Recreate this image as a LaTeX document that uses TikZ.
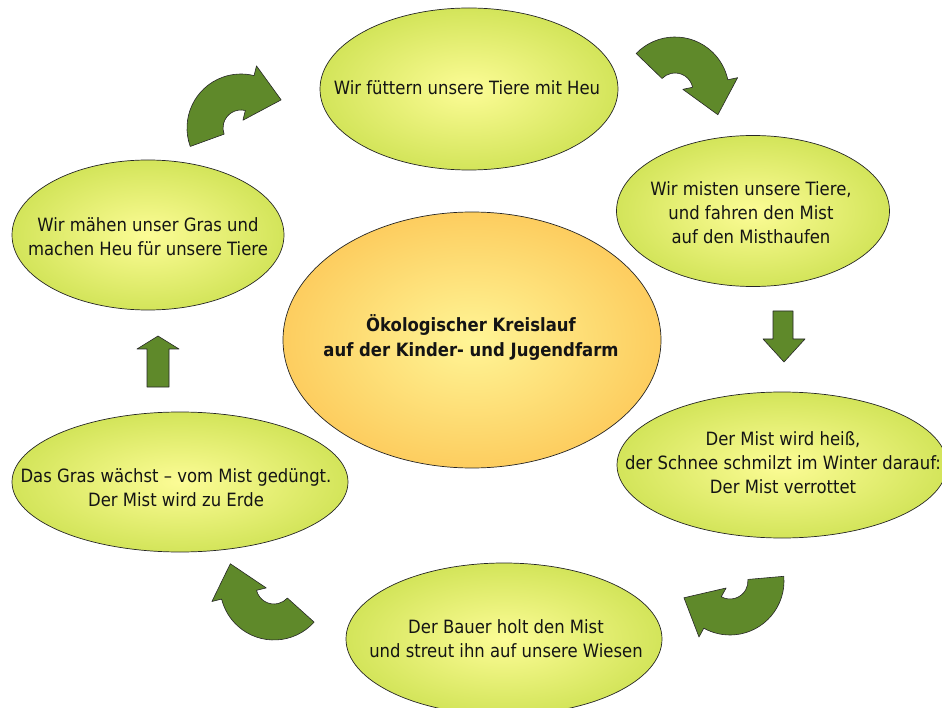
\documentclass[tikz,border=0pt]{standalone}
\usepackage{fontspec}
\setmainfont{DejaVu Sans Condensed}
\usetikzlibrary{shapes.geometric}

\definecolor{leafin}{RGB}{252,252,150}
\definecolor{leafout}{RGB}{170,205,30}
\definecolor{sunin}{RGB}{255,245,150}
\definecolor{sunout}{RGB}{250,165,40}
\definecolor{pfeilgruen}{RGB}{95,137,42}
\definecolor{schrift}{RGB}{20,20,20}

\pgfdeclareradialshading{leafshade}{\pgfpointorigin}{color(0bp)=(leafin); color(50bp)=(leafout)}
\pgfdeclareradialshading{sunshade}{\pgfpointorigin}{color(0bp)=(sunin); color(50bp)=(sunout)}

% Kreispfeil: Mittelpunkt x, y, Winkel des Endes
\newcommand{\kreispfeil}[3]{%
	\begin{scope}[shift={(#1,#2)}]
		\filldraw[pfeil] (#3:54pt) arc[start angle=#3, end angle=#3-124, radius=54pt]
			-- ({#3-124}:64pt) -- ({#3-165}:49pt) -- ({#3-124}:8pt) -- ({#3-124}:18pt)
			arc[start angle=#3-124, end angle=#3, radius=18pt] -- cycle;
	\end{scope}}

\begin{document}
\begin{tikzpicture}[x=1pt, y=-1pt, line join=round,
		blatt/.style={ellipse, draw=black!85, line width=0.7pt, shading=leafshade, inner sep=0pt},
		sonne/.style={blatt, shading=sunshade},
		beschrift/.style={align=center, text=schrift, inner sep=0pt, font=\fontsize{18.3}{24}\selectfont},
		fett/.style={beschrift, font=\fontsize{18.3}{25}\selectfont\bfseries},
		pfeil/.style={fill=pfeilgruen, draw=black!85, line width=0.6pt}]
	\useasboundingbox (0,0) rectangle (942,708);
	\clip (0,0) rectangle (942,708);

	% ====== Stationen des Kreislaufs ======
	\node[blatt, minimum width=298, minimum height=162] (heu) at (469,89) {};
	\node[beschrift] (heu-t) at (467,88) {Wir füttern unsere Tiere mit Heu};

	\node[blatt, minimum width=273, minimum height=151] (misten) at (753,211) {};
	\node[beschrift] (misten-t) at (751,213) {Wir misten unsere Tiere,\\ und fahren den Mist\\ auf den Misthaufen};

	\node[blatt, minimum width=330, minimum height=146] (heiss) at (782,465) {};
	\node[beschrift] (heiss-t) at (783,463) {Der Mist wird heiß,\\ der Schnee schmilzt im Winter darauf:\\ Der Mist verrottet};

	\node[blatt, minimum width=316, minimum height=152] (bauer) at (504,639) {};
	\node[beschrift] (bauer-t) at (506,639) {Der Bauer holt den Mist\\ und streut ihn auf unsere Wiesen};

	\node[blatt, minimum width=336, minimum height=140] (gras) at (180,482) {};
	\node[beschrift] (gras-t) at (176,488) {Das Gras wächst – vom Mist gedüngt.\\ Der Mist wird zu Erde};

	\node[blatt, minimum width=272, minimum height=150] (maehen) at (148,235) {};
	\node[beschrift] (maehen-t) at (148,237) {Wir mähen unser Gras und\\ machen Heu für unsere Tiere};

	% ====== Mitte ======
	\node[sonne, minimum width=378, minimum height=256] (mitte) at (472,340) {};
	\node[fett] (mitte-t) at (471,337) {Ökologischer Kreislauf\\ auf der Kinder- und Jugendfarm};

	% ====== Pfeile ======
	\kreispfeil{241}{128}{200} % oben links
	\kreispfeil{675}{91}{136}  % oben rechts
	\kreispfeil{730}{581}{5}   % unten rechts
	\kreispfeil{274}{586}{318} % unten links

	\filldraw[pfeil] (773,311) -- (793,311) -- (793,339) -- (805,339) -- (784,362) -- (763,339) -- (773,339) -- cycle; % nach unten
	\filldraw[pfeil] (147,387) -- (169,387) -- (169,349) -- (179,349) -- (158,336) -- (137,349) -- (147,349) -- cycle; % nach oben
\end{tikzpicture}
\end{document}
